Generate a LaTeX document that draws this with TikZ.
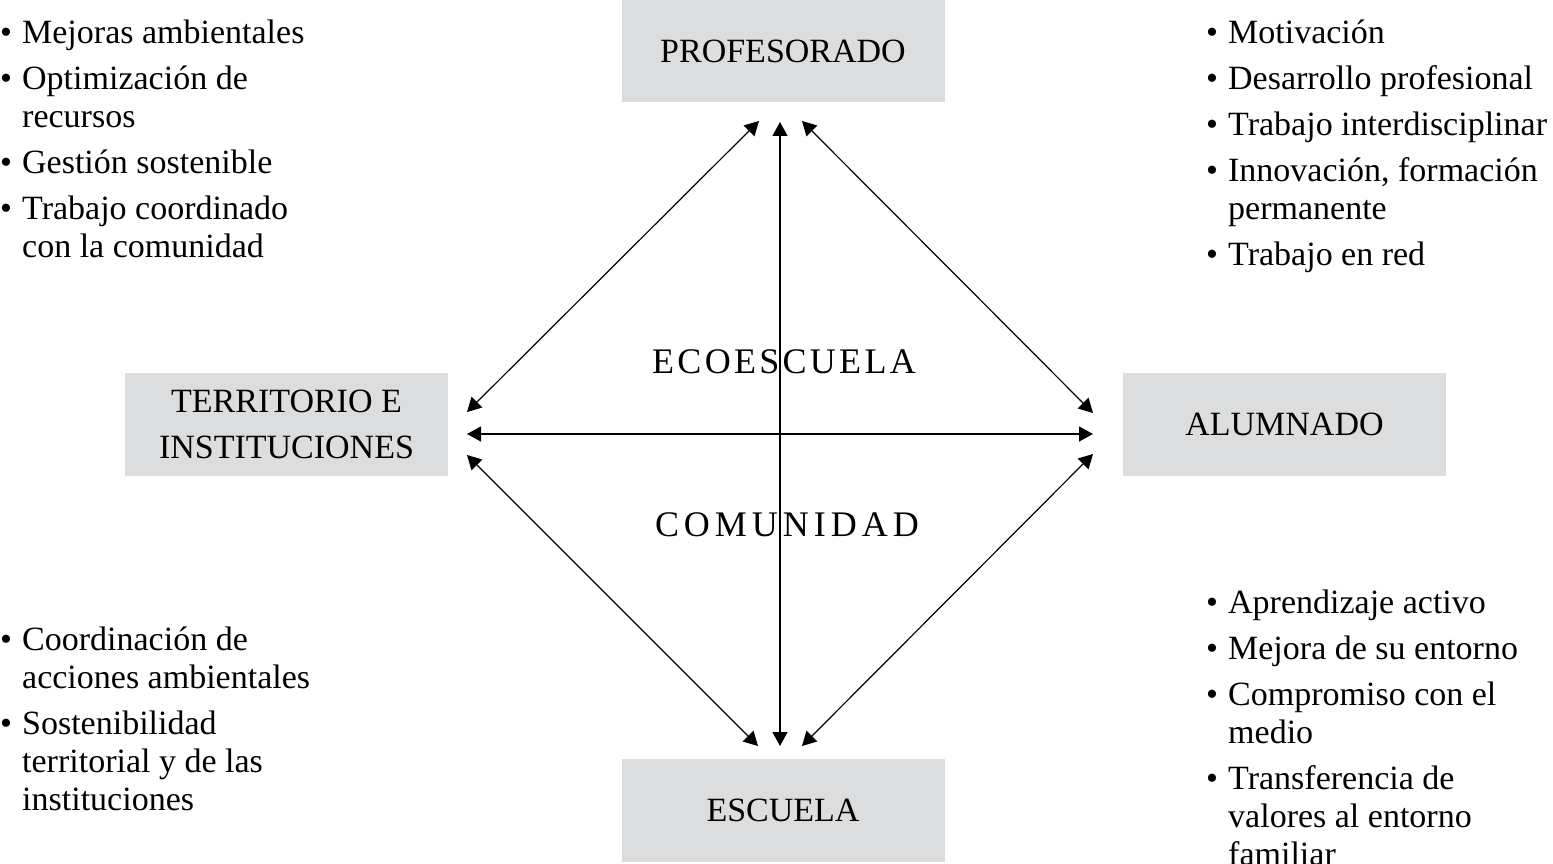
\documentclass[tikz,border=0pt]{standalone}
\usepackage{fontspec}
\setmainfont{Liberation Serif}
\usetikzlibrary{arrows.meta}
\definecolor{boxgray}{RGB}{220,221,223}
\newcommand{\bul}{\makebox[22pt][l]{\hspace{0pt}\fontsize{34}{38}\selectfont\textbullet}}
\newcommand{\ind}{\hspace*{22pt}}
\newcommand{\lgapa}{\hspace{3.3pt}}
\newcommand{\lgapb}{\hspace{5pt}}
\tikzset{
  box/.style={fill=boxgray, minimum width=323pt, minimum height=103pt, inner sep=0pt, align=center, font=\fontsize{34}{46}\selectfont},
  lst/.style={anchor=base west, inner sep=0pt, font=\fontsize{34}{38}\selectfont},
  arr/.style={line width=1.2pt, {Triangle[length=14pt,width=15pt]}-{Triangle[length=14pt,width=15pt]}},
  spaced/.style={anchor=base, inner sep=0pt, font=\fontsize{36}{40}\selectfont}
}
\begin{document}
\begin{tikzpicture}[x=1pt,y=-1pt]
\useasboundingbox (0,0) rectangle (1553,864);
% boxes
\node[box] (prof) at (783,51) {PROFESORADO};
\node[box] (terr) at (286.5,424.5) {TERRITORIO E\\INSTITUCIONES};
\node[box] (alum) at (1284.5,424.5) {ALUMNADO};
\node[box] (esc) at (783,810.5) {ESCUELA};
% arrow end points
\coordinate (pl) at (759,121);
\coordinate (pc) at (780,122);
\coordinate (pr) at (802,121);
\coordinate (tu) at (467,412);
\coordinate (tm) at (467,434);
\coordinate (td) at (467,455);
\coordinate (au) at (1093,413);
\coordinate (am) at (1093,434);
\coordinate (ad) at (1093,454);
\coordinate (el) at (758,746);
\coordinate (ec) at (780,746);
\coordinate (er) at (802,746);
\draw[arr] (pl) -- (tu);
\draw[arr] (pr) -- (au);
\draw[arr] (pc) -- (ec);
\draw[arr] (tm) -- (am);
\draw[arr] (td) -- (el);
\draw[arr] (ad) -- (er);
% centre labels
\node[spaced] (eco) at (784,373) {E\lgapa C\lgapa O\lgapa E\lgapa S\lgapa C\lgapa U\lgapa E\lgapa L\lgapa A};
\node[spaced] (com) at (787,536) {C\lgapb O\lgapb M\lgapb U\lgapb N\lgapb I\lgapb D\lgapb A\lgapb D};
% lists
\node[lst] (l1) at (0,44) {\begin{tabular}[t]{@{}l@{}}
\bul Mejoras ambientales\\[8pt]
\bul Optimización de\\
\ind recursos\\[8pt]
\bul Gestión sostenible\\[8pt]
\bul Trabajo coordinado\\
\ind con la comunidad
\end{tabular}};
\node[lst] (l2) at (1206,44) {\begin{tabular}[t]{@{}l@{}}
\bul Motivación\\[8pt]
\bul Desarrollo profesional\\[8pt]
\bul Trabajo interdisciplinar\\[8pt]
\bul Innovación, formación\\
\ind permanente\\[8pt]
\bul Trabajo en red
\end{tabular}};
\node[lst] (l3) at (0,650) {\begin{tabular}[t]{@{}l@{}}
\bul Coordinación de\\
\ind acciones ambientales\\[8pt]
\bul Sostenibilidad\\
\ind territorial y de las\\
\ind instituciones
\end{tabular}};
\node[lst] (l4) at (1206,613) {\begin{tabular}[t]{@{}l@{}}
\bul Aprendizaje activo\\[8pt]
\bul Mejora de su entorno\\[8pt]
\bul Compromiso con el\\
\ind medio\\[8pt]
\bul Transferencia de\\
\ind valores al entorno\\
\ind familiar
\end{tabular}};
\end{tikzpicture}
\end{document}
